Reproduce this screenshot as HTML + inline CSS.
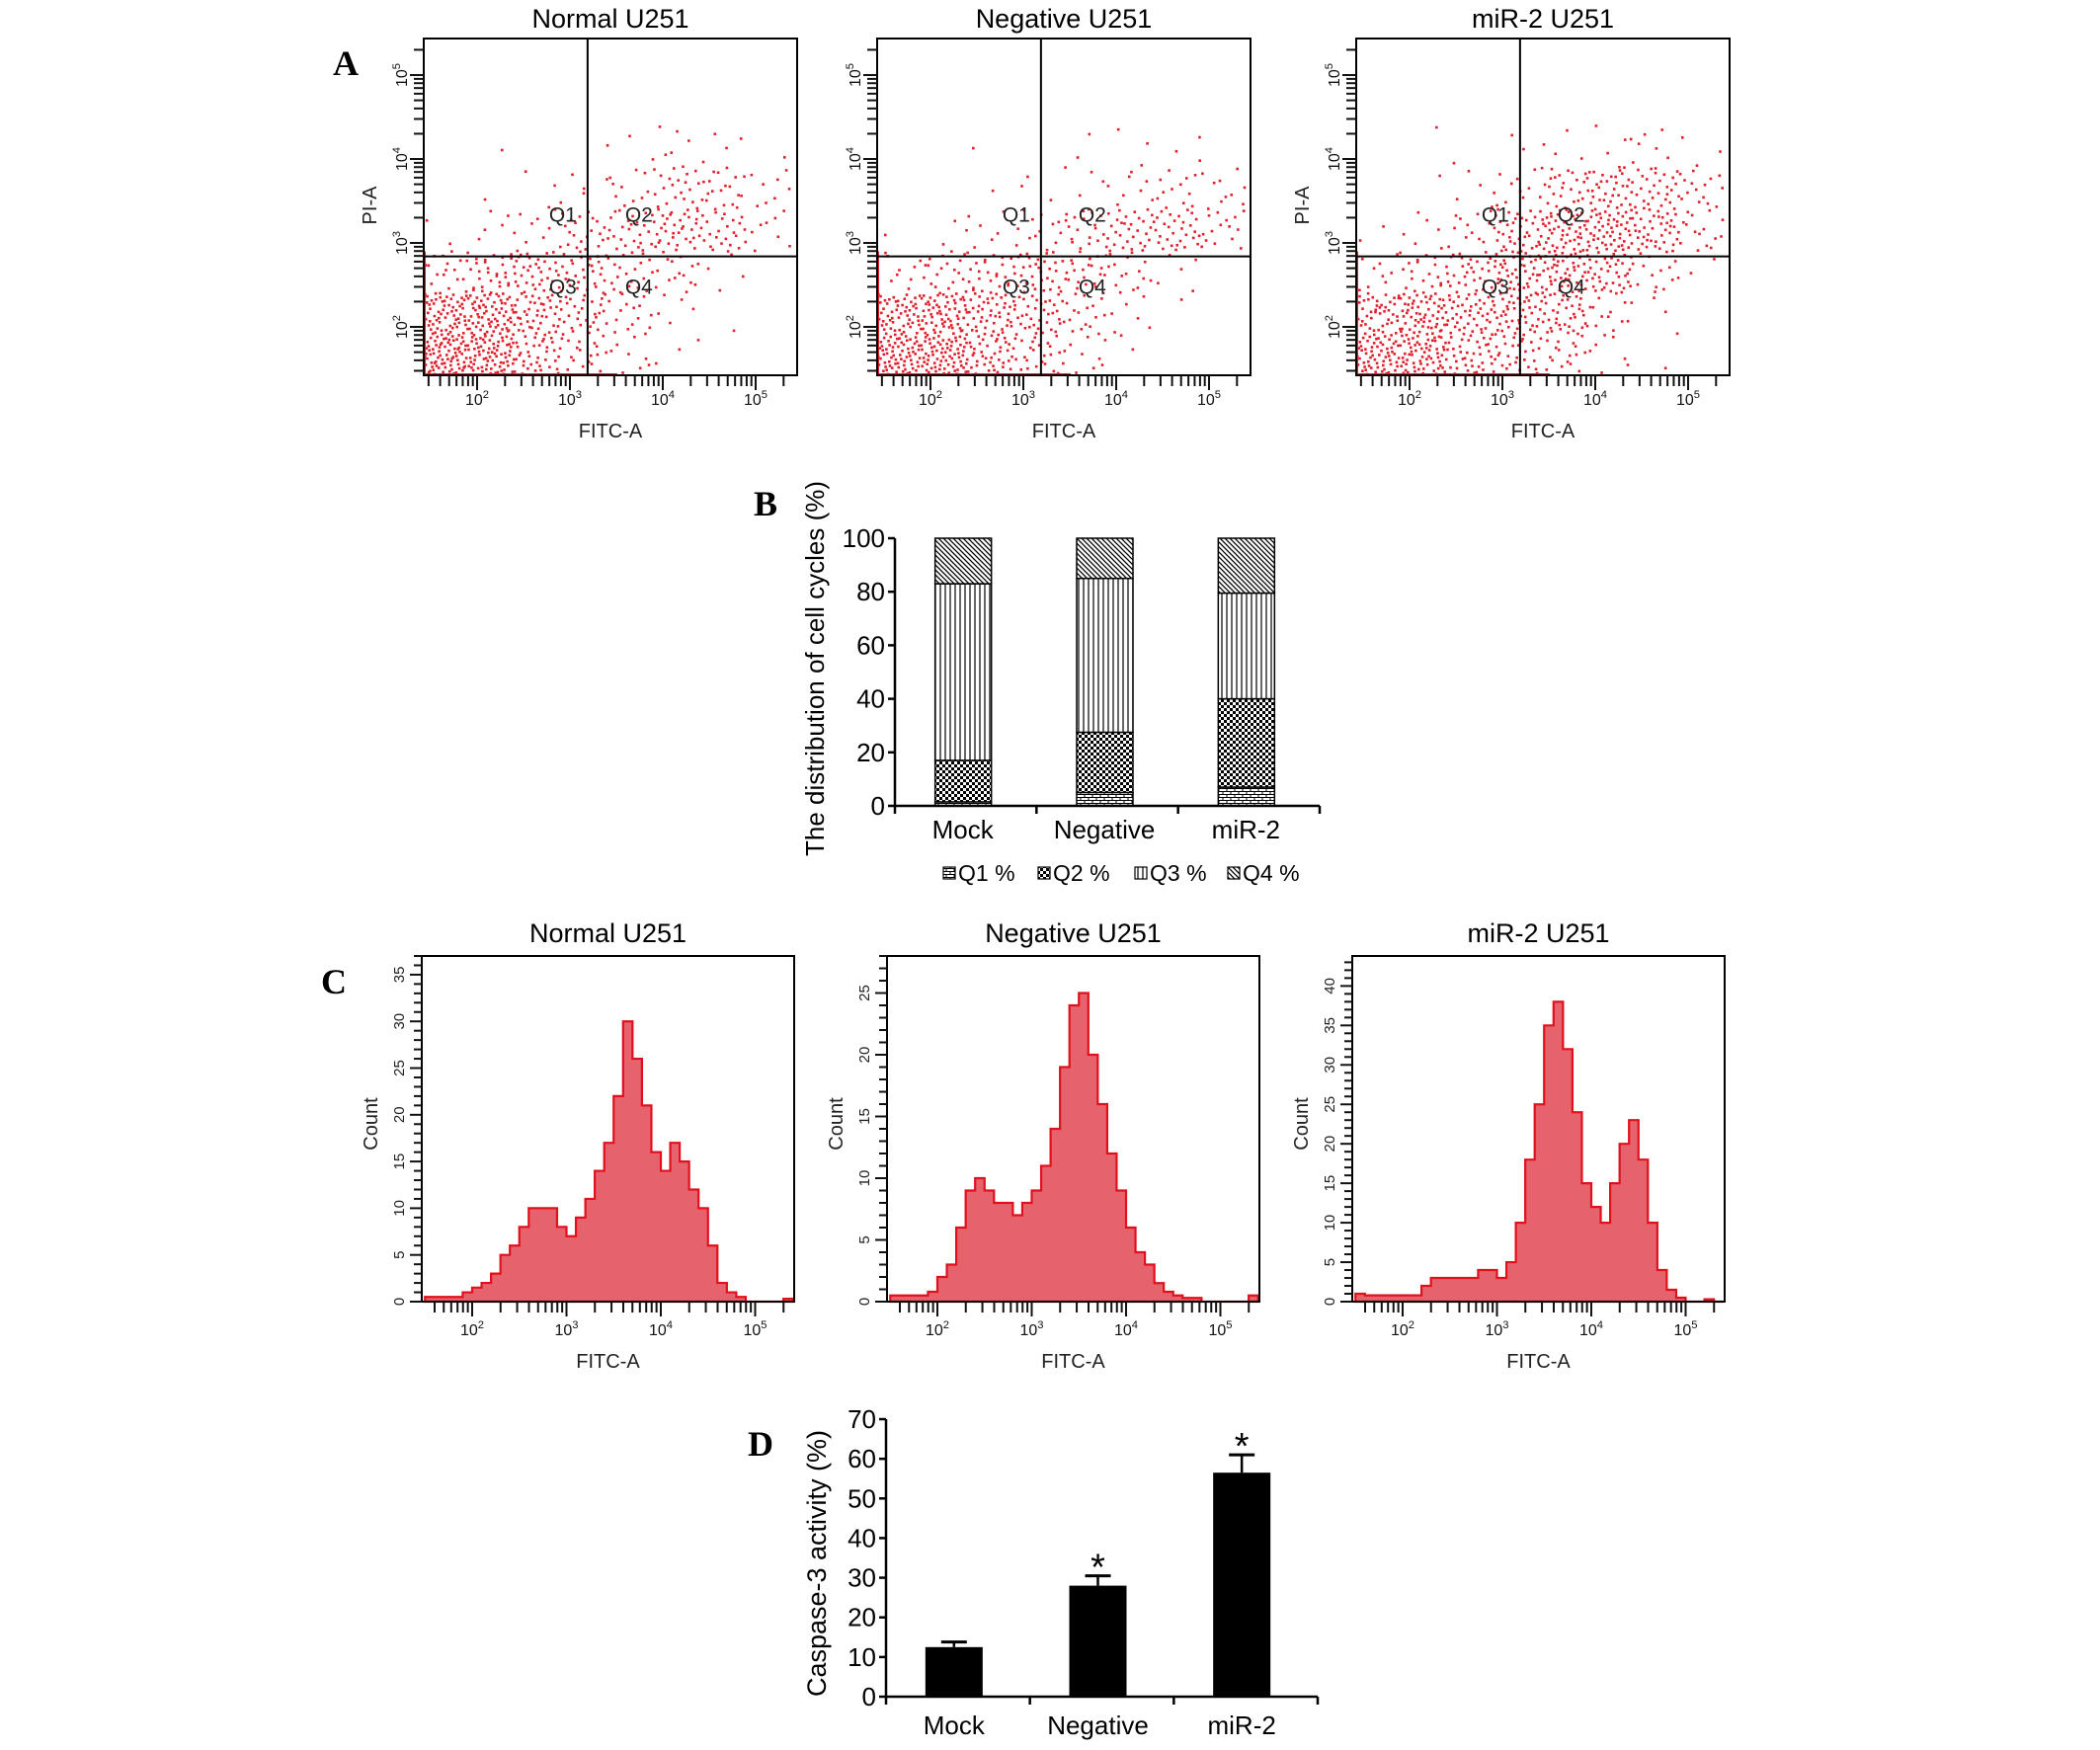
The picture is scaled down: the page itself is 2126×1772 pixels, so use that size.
<!DOCTYPE html>
<html><head><meta charset="utf-8"><style>
html,body{margin:0;padding:0;background:#fff;}
svg{display:block;font-family:"Liberation Sans",Arial,sans-serif;}
</style></head><body>
<svg id="fig" width="2126" height="1772" viewBox="0 0 2126 1772" xmlns="http://www.w3.org/2000/svg">
<defs>
<pattern id="pQ1" width="8" height="6" patternUnits="userSpaceOnUse"><rect width="8" height="6" fill="#fff"/><path d="M0 0.5H8M0 3.5H8M2 0V3M6 3V6" stroke="#000" stroke-width="1"/></pattern>
<pattern id="pQ2" width="6" height="6" patternUnits="userSpaceOnUse"><rect width="6" height="6" fill="#fff"/><rect x="0" y="0" width="3" height="3" fill="#000"/><rect x="3" y="3" width="3" height="3" fill="#000"/></pattern>
<pattern id="pQ3" width="5" height="5" patternUnits="userSpaceOnUse"><rect width="5" height="5" fill="#fff"/><path d="M2 0V5" stroke="#000" stroke-width="1.2"/></pattern>
<pattern id="pQ4" width="5" height="5" patternUnits="userSpaceOnUse"><rect width="5" height="5" fill="#fff"/><path d="M0 0L5 5M-1 4L1 6M4 -1L6 1" stroke="#000" stroke-width="1.3"/></pattern>
</defs>
<g id="root"></g>
</svg>
<script>
// ===== Panel A data: density counts per log-cell (rows = PI-A bins from 1.4 upward, cols = FITC-A bins from 1.4) =====
const scatterTitles = ["Normal U251","Negative U251","miR-2 U251"];
const scatterNormal = [
 [90,80,40,20,8,3,0,0],
 [70,70,45,30,15,5,1,0],
 [20,30,35,30,20,15,4,0],
 [2,5,10,20,25,35,25,8],
 [0,1,3,5,10,20,20,8],
 [0,1,0,0,3,6,4,1]
];
const scatterNegative = [
 [80,80,45,25,10,3,0,0],
 [60,65,45,35,18,6,1,0],
 [10,20,25,30,25,15,5,0],
 [1,3,6,12,20,30,30,15],
 [0,0,1,3,5,8,12,10],
 [0,0,1,0,2,3,2,1]
];
const scatterMir2 = [
 [70,70,40,30,20,6,1,0],
 [50,60,45,45,40,15,3,0],
 [10,20,30,45,50,40,15,2],
 [2,6,12,35,50,55,40,15],
 [0,1,4,10,25,35,30,15],
 [0,1,1,2,4,5,6,3]
];
const gateLogX = 3.19, gateLogY = 2.84;

// ===== Panel B data =====
const stackCats = ["Mock","Negative","miR-2"];
const q1Vals = [1.5,5,7];
const q2Vals = [15.5,22.5,33];
const q3Vals = [66,57.5,39.5];
const q4Vals = [17,15,20.5];
const stackTicks = [0,20,40,60,80,100];

// ===== Panel C data: counts per 0.1-decade bin starting at 10^1.5 =====
const histTitles = ["Normal U251","Negative U251","miR-2 U251"];
const histNormal = [0.5,0.5,0.5,0.5,1,1.5,2,3,5,6,8,10,10,10,8,7,9,11,14,17,22,30,26,21,16,14,17,15,12,10,6,2,1,0.5,0,0,0,0,0.3];
const histNegative = [0.5,0.5,0.5,0.5,0.8,2,3,6,9,10,9,8,8,7,8,9,11,14,19,24,25,20,16,12,9,6,4,3,1.5,0.8,0.5,0.3,0.3,0,0,0,0,0,0.5];
const histMir2 = [1,0.8,0.8,0.8,0.8,0.8,0.8,2,3,3,3,3,3,4,4,3,5,10,18,25,35,38,32,24,15,12,10,15,20,23,18,10,4,1.5,0.5,0,0,0.3,0];
const histMax = [37,28,43.8];

// ===== Panel D data =====
const caspCats = ["Mock","Negative","miR-2"];
const caspVals = [12.5,28,56.5];
const caspErr = [1.3,2.5,4.5];
const caspSig = [false,true,true];
const caspTicks = [0,10,20,30,40,50,60,70];

const NS="http://www.w3.org/2000/svg";
const root=document.getElementById('root');
function mk(tag,attrs,parent){const e=document.createElementNS(NS,tag);for(const k in attrs)e.setAttribute(k,attrs[k]);(parent||root).appendChild(e);return e;}
function txt(x,y,s,size,parent,anchor,extra){const t=mk('text',Object.assign({x:x,y:y,'font-size':size,'text-anchor':anchor||'middle',fill:'#000'},extra||{}),parent);t.textContent=s;return t;}
function pow10(x,y,exp,size,parent,rot){
  const g=mk('g',{transform:rot?`translate(${x},${y}) rotate(-90)`:`translate(${x},${y})`},parent);
  const t=mk('text',{x:0,y:0,'font-size':size,'text-anchor':'middle',fill:'#111'},g);
  t.textContent='10';
  const s=mk('tspan',{dy:-size*0.45,'font-size':size*0.7},t);s.textContent=String(exp);
  return g;
}
function halton(i,b){let f=1,r=0;while(i>0){f/=b;r+=f*(i%b);i=Math.floor(i/b);}return r;}

// ---- Panel labels ----
[["A",337,76],["B",763,522],["C",325,1006],["D",757,1474]].forEach(p=>{
  const t=txt(p[1],p[2],p[0],36,root,'start',{'font-family':'Liberation Serif,serif','font-weight':'bold'});
  
  
});

// ---- Panel A: scatter plots ----
const scatterData=[scatterNormal,scatterNegative,scatterMir2];
const scatterLefts=[429,888,1373];
scatterData.forEach((grid,pi)=>{
  const L=scatterLefts[pi],R=L+378,T=39,B=380;
  const g=mk('g',{});
  
  
  const xs=l=>L+54+(l-2)*94;
  const ys=l=>331-(l-2)*85;
  let idx=1;
  grid.forEach((row,ri)=>{
    row.forEach((n,ci)=>{
      for(let k=0;k<n;k++){
        const lx=1.4+ci*0.5+halton(idx,2)*0.5;
        const ly=1.4+ri*0.5+halton(idx,3)*0.5;
        idx++;
        const px=xs(lx),py=ys(ly);
        if(px<L+1||px>R-1||py<T+1||py>B-1)continue;
        const d=mk('rect',{x:px-1.3,y:py-1.3,width:2.6,height:2.6,fill:'#e0202c'},g);
        
        
      }
    });
  });
  mk('line',{x1:L,y1:B-1,x2:xs(gateLogX)+30,y2:B-1,stroke:'#e0202c','stroke-width':2},g);
  mk('line',{x1:L+1,y1:ys(2.9),x2:L+1,y2:B,stroke:'#e0202c','stroke-width':2},g);
  const box=mk('rect',{x:L,y:T,width:R-L,height:B-T,fill:'none',stroke:'#000','stroke-width':2},g);
  
  
  const gx=xs(gateLogX),gy=ys(gateLogY);
  const gv=mk('line',{x1:gx,y1:T,x2:gx,y2:B,stroke:'#000','stroke-width':2},g);
  
  
  const gh=mk('line',{x1:L,y1:gy,x2:R,y2:gy,stroke:'#000','stroke-width':2},g);
  
  
  [["Q1",gx-25,gy-35],["Q2",gx+52,gy-35],["Q3",gx-25,gy+38],["Q4",gx+52,gy+38]].forEach(q=>{
    const t=txt(q[1],q[2],q[0],21,g,'middle',{fill:'#222'});
    
    
  });
  for(let d=1;d<=5;d++)for(let m=1;m<=9;m++){
    const l=d+Math.log10(m);const px=xs(l);if(px<L+2||px>R)continue;
    mk('line',{x1:px,y1:B,x2:px,y2:B+(m===1?15:11),stroke:'#111','stroke-width':2},g);
  }
  for(let d=1;d<=5;d++)for(let m=1;m<=9;m++){
    const l=d+Math.log10(m);const py=ys(l);if(py>B-2||py<T)continue;
    mk('line',{x1:L-(m===1?14:10),y1:py,x2:L,y2:py,stroke:'#111','stroke-width':2},g);
  }
  [2,3,4,5].forEach(e=>{
    const xl=pow10(xs(e),410,e,16,g,false);
    
    
    const yl=pow10(L-17,ys(e),e,16,g,true);
    
    
  });
  const xt=txt((L+R)/2,443,'FITC-A',20,g,'middle',{fill:'#222'});
  
  
  if(pi!==1){
    const yt=txt(0,0,'PI-A',20,g,'middle',{transform:`translate(${L-48},208) rotate(-90)`,fill:'#222'});
    
    
  }
  const tt=txt((L+R)/2,28,scatterTitles[pi],27,g);
  
  
});

// ---- Panel B: stacked bars ----
(function(){
  const g=mk('g',{});
  
  
  const ax=906,y0=816,y100=545,xEnd=1336;
  const ys=v=>y0-(v/100)*(y0-y100);
  const bandW=(xEnd-ax)/stackCats.length;
  stackCats.forEach((c,i)=>{
    const cx=ax+bandW*(i+0.5)-3;
    let base=0;
    [q1Vals,q2Vals,q3Vals,q4Vals].forEach((arr,si)=>{
      const v=arr[i];
      const r=mk('rect',{x:cx-28,y:ys(base+v),width:57,height:ys(base)-ys(base+v),fill:`url(#pQ${si+1})`,stroke:'#000','stroke-width':1.5},g);
      
      
      base+=v;
    });
    const t=txt(cx,849,c,26,g);
    
    
  });
  mk('line',{x1:ax,y1:y100,x2:ax,y2:y0+1,stroke:'#000','stroke-width':2.5},g);
  mk('line',{x1:ax,y1:y0,x2:xEnd,y2:y0,stroke:'#000','stroke-width':2.5},g);
  for(let i=0;i<=stackCats.length;i++){const x=ax+bandW*i;mk('line',{x1:x,y1:y0,x2:x,y2:y0+8,stroke:'#000','stroke-width':2.5},g);}
  stackTicks.forEach(v=>{
    mk('line',{x1:ax-7,y1:ys(v),x2:ax,y2:ys(v),stroke:'#000','stroke-width':2.5},g);
    const t=txt(ax-10,ys(v)+9,String(v),26,g,'end');
    
    
  });
  const yt=txt(0,0,'The distribution of cell cycles (%)',26,g,'middle',{transform:'translate(834,677) rotate(-90)'});
  
  
  ["Q1 %","Q2 %","Q3 %","Q4 %"].forEach((s,i)=>{
    const lx=[958,1054,1152,1246][i];
    const lg=mk('g',{},g);
    
    
    mk('rect',{x:lx-3,y:878,width:12,height:12,fill:`url(#pQ${i+1})`,stroke:'#000','stroke-width':1.2},lg);
    txt(lx+12,892,s,23,lg,'start');
  });
})();

// ---- Panel C: histograms ----
const histData=[histNormal,histNegative,histMir2];
const histLefts=[427,898,1369];
histData.forEach((h,pi)=>{
  const L=histLefts[pi],R=L+377,T=968,B=1318;
  const g=mk('g',{});
  
  
  const xs=l=>L+51+(l-2)*95.5;
  const ys=v=>B-(v/histMax[pi])*(B-T);
  let d=`M${xs(1.5)},${B}`;
  h.forEach((v,i)=>{const lo=1.5+i*0.1;d+=` L${xs(lo)},${ys(v)} L${xs(lo+0.1)},${ys(v)}`;});
  d+=` L${xs(1.5+h.length*0.1)},${B} Z`;
  const p=mk('path',{d:d,fill:'#e6636d',stroke:'#e0101c','stroke-width':2.2,'stroke-linejoin':'miter'},g);
  
  
  const box=mk('rect',{x:L,y:T,width:R-L,height:B-T,fill:'none',stroke:'#000','stroke-width':2},g);
  
  
  for(let dd=1;dd<=5;dd++)for(let m=1;m<=9;m++){
    const l=dd+Math.log10(m);const px=xs(l);if(px<L+2||px>R)continue;
    mk('line',{x1:px,y1:B,x2:px,y2:B+(m===1?15:11),stroke:'#111','stroke-width':2},g);
  }
  for(let v=0;v<=histMax[pi];v++){
    mk('line',{x1:L-(v%5===0?12:8),y1:ys(v),x2:L,y2:ys(v),stroke:'#111','stroke-width':2},g);
  }
  for(let v=0;v<=histMax[pi];v+=5){
    const t=txt(0,0,String(v),15,g,'middle',{transform:`translate(${L-18},${ys(v)}) rotate(-90)`,fill:'#222'});
    
    
  }
  [2,3,4,5].forEach(e=>{
    const xl=pow10(xs(e),1352,e,16,g,false);
    
    
  });
  const xt=txt((L+R)/2,1385,'FITC-A',20,g,'middle',{fill:'#222'});
  
  
  const yt=txt(0,0,'Count',20,g,'middle',{transform:`translate(${L-45},1138) rotate(-90)`,fill:'#222'});
  
  
  const tt=txt((L+R)/2,954,histTitles[pi],27,g);
  
  
});

// ---- Panel D: caspase bars ----
(function(){
  const g=mk('g',{});
  
  
  const ax=897,y0=1718,yTop=1437,xEnd=1334,maxV=70;
  const ys=v=>y0-(v/maxV)*(y0-yTop);
  const bandW=(xEnd-ax)/caspCats.length;
  caspCats.forEach((c,i)=>{
    const cx=ax+bandW*(i+0.5)-4;
    const v=caspVals[i],e=caspErr[i];
    mk('line',{x1:cx,y1:ys(v),x2:cx,y2:ys(v+e),stroke:'#000','stroke-width':2.5},g);
    mk('line',{x1:cx-13,y1:ys(v+e),x2:cx+13,y2:ys(v+e),stroke:'#000','stroke-width':3},g);
    const r=mk('rect',{x:cx-29,y:ys(v),width:58,height:y0-ys(v),fill:'#000'},g);
    
    
    if(caspSig[i]){
      const s=txt(cx,ys(v+e)+4,'*',38,g);
      
      
    }
    const t=txt(cx,1756,c,26,g);
    
    
  });
  mk('line',{x1:ax,y1:yTop,x2:ax,y2:y0+1,stroke:'#000','stroke-width':2.5},g);
  mk('line',{x1:ax,y1:y0,x2:xEnd,y2:y0,stroke:'#000','stroke-width':2.5},g);
  for(let i=0;i<=caspCats.length;i++){const x=ax+bandW*i;mk('line',{x1:x,y1:y0,x2:x,y2:y0+8,stroke:'#000','stroke-width':2.5},g);}
  caspTicks.forEach(v=>{
    mk('line',{x1:ax-7,y1:ys(v),x2:ax,y2:ys(v),stroke:'#000','stroke-width':2.5},g);
    const t=txt(ax-10,ys(v)+9,String(v),26,g,'end');
    
    
  });
  const yt=txt(0,0,'Caspase-3 activity (%)',27,g,'middle',{transform:'translate(836,1583) rotate(-90)'});
  
  
})();
</script>
</body></html>
